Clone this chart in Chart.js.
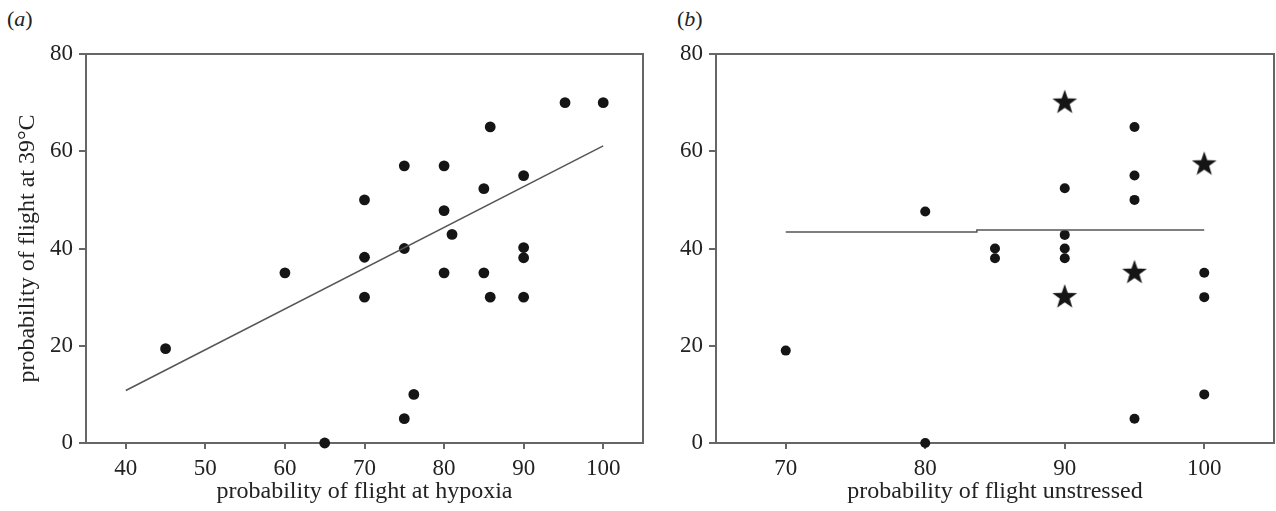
<!DOCTYPE html>
<html>
<head>
<meta charset="utf-8">
<script src="https://cdn.jsdelivr.net/npm/chart.js@4.4.1/dist/chart.umd.min.js"></script>
<style>
  html, body { margin: 0; padding: 0; background: #fff; }
  body { width: 1276px; height: 511px; position: relative; overflow: hidden; font-family: 'Liberation Serif', serif; }
  .panel { position: absolute; top: 0; }
  .panel canvas { display: block; }
  .tag { position: absolute; top: 6px; font-size: 22px; color: #222; }
</style>
</head>
<body>
<div class="tag" style="left:7px">(<i>a</i>)</div>
<div class="tag" style="left:677px">(<i>b</i>)</div>
<div class="panel" style="left:0"><canvas id="chartA" width="645" height="511"></canvas></div>
<div class="panel" style="left:645px"><canvas id="chartB" width="631" height="511"></canvas></div>
<script>
// panel (a): flight at hypoxia vs flight at 39°C
const hypoxiaX = [45, 60, 65, 70, 70, 70, 75, 75, 75, 76.2, 80, 80, 80, 81, 85, 85, 85.8, 85.8, 90, 90, 90, 90, 95.2, 100];
const heatY    = [19.4, 35, 0, 50, 38.2, 30, 57, 40, 5, 10, 57, 47.8, 35, 42.9, 52.3, 35, 65, 30, 55, 40.2, 38.1, 30, 70, 70];
const fitAX = [40, 100];
const fitAY = [10.8, 61.1];
const xTicksA = [40, 50, 60, 70, 80, 90, 100];

// panel (b): flight unstressed vs flight at 39°C
const unstressedX = [70, 80, 80, 85, 85, 90, 90, 90, 90, 95, 95, 95, 95, 100, 100, 100];
const unstressedY = [19, 47.6, 0, 40, 38, 52.4, 42.8, 40, 38, 65, 55, 50, 5, 35, 30, 10];
const starX = [90, 90, 95, 100];
const starY = [70, 30, 35, 57.3];
const fitBX = [70, 83.7, 83.7, 100];
const fitBY = [43.4, 43.4, 43.8, 43.8];
const xTicksB = [70, 80, 90, 100];

const yTicks = [0, 20, 40, 60, 80];

const INK = '#151515';
const AXIS = '#666666';
const FONT = 'Liberation Serif';

function pts(xs, ys) {
    return xs.map((x, i) => ({ x: x, y: ys[i] }));
}

// filled five-point star used as point style
function makeStar(r) {
    const c = document.createElement('canvas');
    const s = Math.ceil(r * 2 + 2);
    c.width = s;
    c.height = s;
    const g = c.getContext('2d');
    g.fillStyle = INK;
    g.beginPath();
    for (let i = 0; i < 10; i++) {
        const rad = i % 2 === 0 ? r : r * 0.4;
        const a = -Math.PI / 2 + i * Math.PI / 5;
        const px = s / 2 + rad * Math.cos(a);
        const py = s / 2 + rad * Math.sin(a);
        if (i === 0) g.moveTo(px, py); else g.lineTo(px, py);
    }
    g.closePath();
    g.fill();
    return c;
}

const framePlugin = {
    id: 'frame',
    afterDatasetsDraw(chart) {
        const { ctx, chartArea: a } = chart;
        ctx.save();
        ctx.strokeStyle = AXIS;
        ctx.lineWidth = 2;
        ctx.beginPath();
        ctx.moveTo(a.left, a.top);
        ctx.lineTo(a.right, a.top);
        ctx.lineTo(a.right, a.bottom);
        ctx.stroke();
        ctx.restore();
    }
};

function options(xMin, xMax, xTicks, yWidth, xTitle, yTitle) {
    return {
        responsive: false,
        animation: false,
        layout: { autoPadding: false, padding: { top: 54, right: 2, bottom: 0, left: 0 } },
        plugins: {
            legend: { display: false },
            tooltip: { enabled: false }
        },
        scales: {
            x: {
                type: 'linear',
                min: xMin,
                max: xMax,
                afterBuildTicks: s => { s.ticks = xTicks.map(v => ({ value: v })); },
                afterFit: s => { s.height = 68; s.paddingLeft = 0; s.paddingRight = 0; },
                grid: { drawOnChartArea: false, drawTicks: true, tickLength: 6, color: AXIS, lineWidth: 2 },
                border: { display: true, color: AXIS, width: 2 },
                ticks: { color: '#222', padding: 6, font: { family: FONT, size: 23 } },
                title: {
                    display: true,
                    text: xTitle,
                    color: '#222',
                    padding: { top: 0, bottom: 5 },
                    font: { family: FONT, size: 24 }
                }
            },
            y: {
                type: 'linear',
                min: 0,
                max: 80,
                afterBuildTicks: s => { s.ticks = yTicks.map(v => ({ value: v })); },
                afterFit: s => { s.width = yWidth; },
                grid: { drawOnChartArea: false, drawTicks: true, tickLength: 7, color: AXIS, lineWidth: 2 },
                border: { display: true, color: AXIS, width: 2 },
                ticks: { color: '#222', padding: 6, font: { family: FONT, size: 23 } },
                title: {
                    display: yTitle !== '',
                    text: yTitle,
                    color: '#222',
                    padding: { top: 13, bottom: 0 },
                    font: { family: FONT, size: 24 }
                }
            }
        }
    };
}

new Chart(document.getElementById('chartA').getContext('2d'), {
    type: 'scatter',
    data: {
        datasets: [{
            type: 'line',
            data: pts(fitAX, fitAY),
            borderColor: '#555',
            borderWidth: 1.5,
            pointRadius: 0,
            fill: false
        }, {
            data: pts(hypoxiaX, heatY),
            backgroundColor: INK,
            borderWidth: 0,
            pointRadius: 5.4,
            clip: false
        }]
    },
    options: options(35, 105, xTicksA, 86, 'probability of flight at hypoxia', 'probability of flight at 39°C'),
    plugins: [framePlugin]
});

new Chart(document.getElementById('chartB').getContext('2d'), {
    type: 'scatter',
    data: {
        datasets: [{
            type: 'line',
            data: pts(fitBX, fitBY),
            borderColor: '#555',
            borderWidth: 1.5,
            pointRadius: 0,
            fill: false
        }, {
            data: pts(unstressedX, unstressedY),
            backgroundColor: INK,
            borderWidth: 0,
            pointRadius: 5,
            clip: false
        }, {
            data: pts(starX, starY),
            pointStyle: makeStar(13),
            pointRadius: 13,
            clip: false
        }]
    },
    options: options(65, 105, xTicksB, 71, 'probability of flight unstressed', ''),
    plugins: [framePlugin]
});
</script>
</body>
</html>
